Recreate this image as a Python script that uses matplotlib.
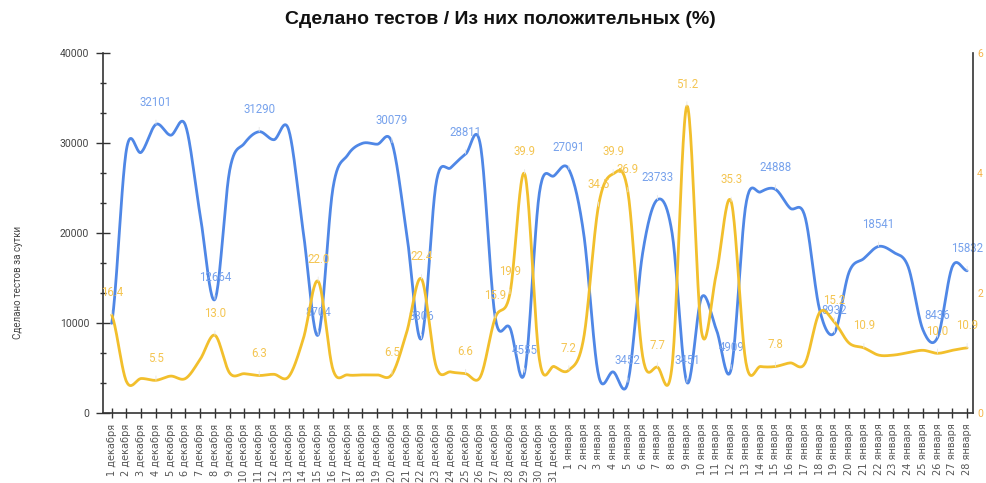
import numpy as np
import matplotlib
matplotlib.use("Agg")
import matplotlib.pyplot as plt
from matplotlib.ticker import MultipleLocator, FuncFormatter

# ---- data ----
days = [f"{d} декабря" for d in range(1, 32)] + [f"{d} января" for d in range(1, 29)]

tests = [10000, 29300, 29000, 32101, 30900, 32000, 22000, 12664, 27000, 30000,
         31290, 30400, 31500, 20000, 8704, 25000, 28700, 30000, 29900, 30079,
         20000, 8306, 25600, 27300, 28811, 29800, 10700, 9500, 4555, 24500,
         26400, 27091, 20000, 4300, 4600, 3452, 17800, 23733, 20000, 3451,
         12900, 9300, 4909, 23200, 24600, 24888, 22800, 21900, 11500, 8932,
         15700, 17200, 18541, 17900, 16300, 9300, 8436, 16300, 15832]

positive_pct = [16.4, 5.3, 5.8, 5.5, 6.2, 5.8, 9.0, 13.0, 6.7, 6.6,
                6.3, 6.5, 6.1, 12.5, 22.0, 7.3, 6.4, 6.4, 6.4, 6.5,
                13.5, 22.4, 7.8, 6.9, 6.6, 6.1, 15.9, 19.9, 39.9, 9.0,
                7.8, 7.2, 12.5, 34.5, 39.9, 36.9, 9.5, 7.7, 8.0, 51.2,
                13.5, 23.3, 35.3, 8.5, 7.8, 7.8, 8.4, 8.3, 16.8, 15.2,
                11.7, 10.9, 9.7, 9.7, 10.1, 10.5, 10.0, 10.5, 10.9]

tests_labeled = [3, 7, 10, 14, 19, 21, 24, 28, 31, 35, 37, 39, 42, 45, 49, 52, 56, 58]
pct_labeled = [0, 3, 7, 10, 14, 19, 21, 24, 26, 27, 28, 31, 33, 34, 35, 37, 39,
               42, 45, 49, 51, 56, 58]

title = "Сделано тестов / Из них положительных (%)"
ylabel = "Сделано тестов за сутки"

BLUE = "#4f87e6"
BLUE_LBL = "#77a2ec"
YEL = "#f2bf2c"
YEL_LBL = "#f4c552"
YEL_TICK = "#f5b44a"


def smooth(y, n=24):
    y = np.asarray(y, float)
    N = len(y)
    xs, ys = [], []
    for i in range(N - 1):
        p0 = y[i - 1] if i > 0 else y[i]
        p1, p2 = y[i], y[i + 1]
        p3 = y[i + 2] if i + 2 < N else y[i + 1]
        m1 = (p2 - p0) / 2.0
        m2 = (p3 - p1) / 2.0
        t = np.linspace(0, 1, n, endpoint=False)
        h00 = 2 * t**3 - 3 * t**2 + 1
        h10 = t**3 - 2 * t**2 + t
        h01 = -2 * t**3 + 3 * t**2
        h11 = t**3 - t**2
        xs.append(i + t)
        ys.append(h00 * p1 + h10 * m1 + h01 * p2 + h11 * m2)
    xs.append(np.array([N - 1.0]))
    ys.append(np.array([y[-1]]))
    return np.concatenate(xs), np.concatenate(ys)


W, H = 987, 483
fig = plt.figure(figsize=(W / 100, H / 100), dpi=100)
L, R, T, B = 103, 973, 53.3, 413.3
ax = fig.add_axes([L / W, 1 - B / H, (R - L) / W, (B - T) / H])
ax2 = ax.twinx()

x = np.arange(len(days))
sx, sy = smooth(tests)
ax.plot(sx, sy, color=BLUE, lw=2.0, solid_capstyle="round", zorder=3)
px, py = smooth(positive_pct)
ax2.plot(px, py, color=YEL, lw=2.0, solid_capstyle="round", zorder=3)

ax.set_xlim(-0.59, len(days) - 1 + 0.4)
ax.set_ylim(0, 40000)
ax2.set_ylim(0, 60)

for i in tests_labeled:
    ax.annotate(f"{tests[i]}", (x[i], tests[i]), xytext=(0, 22), textcoords="offset pixels",
                ha="center", va="center", color=BLUE_LBL, fontsize=8.3, family="Roboto",
                arrowprops=dict(arrowstyle="-", color="#e6e6e6", lw=0.6, shrinkA=6, shrinkB=0),
                zorder=5)
for i in pct_labeled:
    ax2.annotate(f"{positive_pct[i]:.1f}", (x[i], positive_pct[i]), xytext=(0, 22),
                 textcoords="offset pixels", ha="center", va="center", color=YEL_LBL,
                 fontsize=8.3, family="Roboto",
                 arrowprops=dict(arrowstyle="-", color="#e6e6e6", lw=0.6, shrinkA=6, shrinkB=0),
                 zorder=5)

# axes styling
for a in (ax, ax2):
    a.spines["top"].set_visible(False)
ax.spines["right"].set_visible(False)
ax2.spines["left"].set_visible(False)
ax2.spines["bottom"].set_visible(False)
for s in ("left", "bottom"):
    ax.spines[s].set_color("#333333")
    ax.spines[s].set_linewidth(1.2)
ax2.spines["right"].set_color("#333333")
ax2.spines["right"].set_linewidth(1.2)

ax.set_xticks(x)
ax.set_xticklabels(days, rotation=90, fontsize=7.0, color="#555555", family="DejaVu Sans")
ax.tick_params(axis="x", direction="inout", length=7, width=1.0, color="#333333", pad=4)

ax.yaxis.set_major_locator(MultipleLocator(10000))
ax.yaxis.set_minor_locator(MultipleLocator(10000 / 3))
ax.tick_params(axis="y", which="major", direction="inout", length=10, width=1.0,
               color="#333333", labelsize=7.5, labelcolor="#444444", pad=5)
ax.tick_params(axis="y", which="minor", direction="inout", length=5, width=1.0, color="#333333")
for lbl in ax.get_yticklabels():
    lbl.set_family("Roboto")

ax2.set_yticks([0, 20, 40, 60])
ax2.yaxis.set_major_formatter(FuncFormatter(lambda v, p: f"{v / 10:g}"))
ax2.tick_params(axis="y", length=0, labelsize=7.5, labelcolor=YEL_TICK, pad=3)
for lbl in ax2.get_yticklabels():
    lbl.set_family("Roboto")

fig.text(500 / W, 1 - 20 / H, title, ha="center", va="center", fontsize=14,
         fontweight="bold", family="Liberation Sans", color="#111111")
fig.text(18 / W, 1 - 282 / H, ylabel, rotation=90, ha="center", va="center",
         fontsize=7, color="#444444", family="Roboto")

fig.savefig("out.png", dpi=100)
